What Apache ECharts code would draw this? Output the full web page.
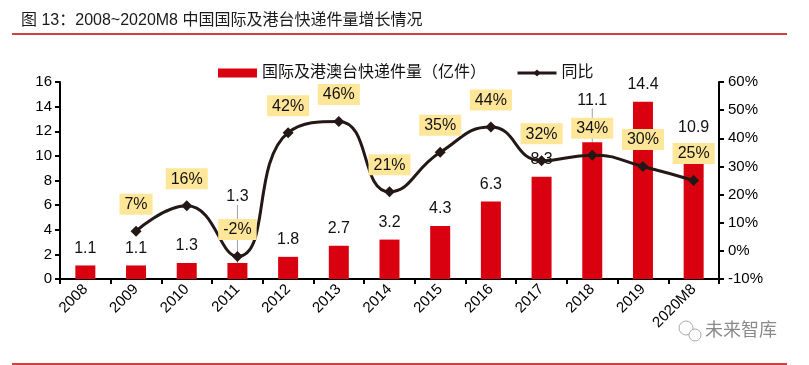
<!DOCTYPE html>
<html><head><meta charset="utf-8">
<script src="https://cdn.jsdelivr.net/npm/echarts@6/dist/echarts.min.js"></script>
<style>html,body{margin:0;padding:0;background:#fff}#c{width:809px;height:365px}</style>
</head><body><div id="c"></div>
<script>
const categories = ['2008','2009','2010','2011','2012','2013','2014','2015','2016','2017','2018','2019','2020M8'];
const volume = [1.1, 1.1, 1.3, 1.3, 1.8, 2.7, 3.2, 4.3, 6.3, 8.3, 11.1, 14.4, 10.9];
const growth = [null, 7, 16, -2, 42, 46, 21, 35, 44, 32, 34, 30, 25];
const volumeName = '国际及港澳台快递件量（亿件）';
const growthName = '同比';
const titleText = '图 13：2008~2020M8 中国国际及港台快递件量增长情况';
const watermark = '未来智库';
// bar labels that were lifted with a leader line in the original (index -> lift px)
const liftedLabels = {3: -49, 10: -25};

const FONT = '"Liberation Sans", "Noto Sans CJK SC", sans-serif';
const barData = volume.map((v, i) => liftedLabels[i]
  ? {value: v, labelLine: {show: true, lineStyle: {color: '#a0a0a0', width: 1}}}
  : {value: v});

const chart = echarts.init(document.getElementById('c'));
chart.setOption({
  animation: false,
  backgroundColor: '#fff',
  textStyle: {fontFamily: FONT},
  title: {
    text: titleText, left: 16, top: 8,
    textStyle: {fontSize: 16, fontWeight: 'normal', color: '#1a1a1a', fontFamily: FONT}
  },
  graphic: [
    {type: 'line', shape: {x1: 12, y1: 34, x2: 787, y2: 34}, style: {stroke: '#C00000', lineWidth: 1.5}},
    {type: 'line', shape: {x1: 12, y1: 364, x2: 787, y2: 364}, style: {stroke: '#C00000', lineWidth: 1.5}},
    {type: 'text', left: 705, top: 322, style: {text: watermark, fontSize: 18, fill: '#8a8a8a', fontFamily: FONT}},
    {type: 'circle', shape: {cx: 686, cy: 328, r: 7}, style: {fill: 'none', stroke: '#aaa', lineWidth: 1}},
    {type: 'circle', shape: {cx: 695, cy: 335, r: 6}, style: {fill: '#fff', stroke: '#aaa', lineWidth: 1}}
  ],
  legend: {
    top: 60, left: 213, itemGap: 30,
    itemWidth: 39, itemHeight: 9,
    textStyle: {fontSize: 16, color: '#111', fontFamily: FONT},
    data: [
      {name: volumeName, icon: 'rect'},
      {name: growthName, lineStyle: {width: 3, color: '#231815'}, itemStyle: {color: '#231815'}}
    ]
  },
  grid: {left: 60, right: 90, top: 82, bottom: 86},
  xAxis: {
    type: 'category', data: categories,
    axisLine: {lineStyle: {color: '#000', width: 2}},
    axisTick: {show: true, length: 5, lineStyle: {color: '#000', width: 2}},
    axisLabel: {rotate: 45, fontSize: 15, color: '#000', margin: 8, fontFamily: FONT, interval: 0}
  },
  yAxis: [
    {
      type: 'value', min: 0, max: 16, interval: 2,
      axisLine: {show: true, lineStyle: {color: '#000', width: 2}},
      axisTick: {show: true, length: 5, lineStyle: {color: '#000', width: 2}},
      splitLine: {show: false},
      axisLabel: {fontSize: 15, color: '#000', margin: 8, fontFamily: FONT}
    },
    {
      type: 'value', min: -10, max: 60, interval: 10, position: 'right',
      axisLine: {show: true, lineStyle: {color: '#000', width: 2}},
      axisTick: {show: true, length: 5, lineStyle: {color: '#000', width: 2}},
      splitLine: {show: false},
      axisLabel: {fontSize: 15, color: '#000', margin: 9, fontFamily: FONT, formatter: '{value}%'}
    }
  ],
  series: [
    {
      name: volumeName, type: 'bar', data: barData, yAxisIndex: 0,
      barWidth: 20, z: 2,
      itemStyle: {color: '#D9000F'},
      label: {show: true, position: 'top', distance: 9, fontSize: 16, color: '#111', fontFamily: FONT},
      labelLine: {show: false},
      labelLayout: function (p) {
        const dy = liftedLabels[p.dataIndex];
        return dy ? {dy: dy} : {};
      }
    },
    {
      name: growthName, type: 'line', data: growth, yAxisIndex: 1,
      smooth: 0.5, connectNulls: false, z: 5,
      symbol: 'diamond', symbolSize: 11,
      lineStyle: {color: '#231815', width: 3},
      itemStyle: {color: '#231815'},
      label: {
        show: true, position: 'top', distance: 11,
        formatter: '{c}%', fontSize: 16, color: '#111', fontFamily: FONT,
        backgroundColor: '#FFE699', padding: [3, 5, 2, 5]
      }
    }
  ]
});
</script></body></html>
